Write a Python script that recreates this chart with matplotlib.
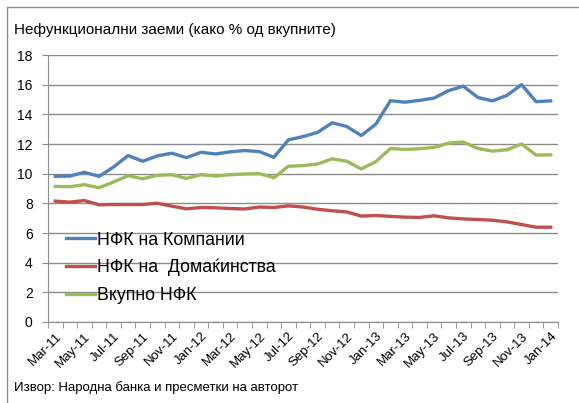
import numpy as np
import matplotlib.pyplot as plt
from matplotlib.patches import Rectangle

plt.rcParams['font.family'] = ['Liberation Sans', 'DejaVu Sans']

# Податоци (месечно, Mar-11 .. Jan-14)
months = ['Mar-11', 'Apr-11', 'May-11', 'Jun-11', 'Jul-11', 'Aug-11', 'Sep-11', 'Oct-11',
          'Nov-11', 'Dec-11', 'Jan-12', 'Feb-12', 'Mar-12', 'Apr-12', 'May-12', 'Jun-12',
          'Jul-12', 'Aug-12', 'Sep-12', 'Oct-12', 'Nov-12', 'Dec-12', 'Jan-13', 'Feb-13',
          'Mar-13', 'Apr-13', 'May-13', 'Jun-13', 'Jul-13', 'Aug-13', 'Sep-13', 'Oct-13',
          'Nov-13', 'Dec-13', 'Jan-14']
kompanii = [9.82, 9.84, 10.09, 9.82, 10.45, 11.22, 10.84, 11.2, 11.38, 11.08, 11.44, 11.33,
            11.47, 11.56, 11.49, 11.1, 12.28, 12.5, 12.78, 13.43, 13.18, 12.57, 13.34, 14.92,
            14.82, 14.94, 15.1, 15.6, 15.9, 15.14, 14.91, 15.28, 16.0, 14.85, 14.91]
domakinstva = [8.15, 8.08, 8.19, 7.9, 7.92, 7.92, 7.92, 8.01, 7.81, 7.63, 7.72, 7.7,
               7.65, 7.62, 7.75, 7.72, 7.83, 7.75, 7.6, 7.5, 7.42, 7.14, 7.18, 7.12,
               7.07, 7.05, 7.16, 7.02, 6.95, 6.91, 6.86, 6.75, 6.57, 6.39, 6.39]
vkupno = [9.14, 9.12, 9.26, 9.05, 9.44, 9.86, 9.66, 9.89, 9.93, 9.68, 9.93, 9.84,
          9.93, 9.98, 10.0, 9.73, 10.5, 10.54, 10.65, 11.0, 10.84, 10.32, 10.81, 11.7,
          11.63, 11.68, 11.77, 12.06, 12.13, 11.7, 11.52, 11.61, 12.0, 11.25, 11.27]
labels = ['НФК на Компании', 'НФК на  Домаќинства', 'Вкупно НФК']

fig = plt.figure(figsize=(5.79, 4.03), dpi=100)
ax = fig.add_axes([0.0829, 0.201, 0.8808, 0.6625])

x = np.arange(len(months))
ax.plot(x, kompanii, color='#4F81BD', lw=2.4, label=labels[0], solid_joinstyle='round')
ax.plot(x, domakinstva, color='#C0504D', lw=2.4, label=labels[1], solid_joinstyle='round')
ax.plot(x, vkupno, color='#9BBB59', lw=2.4, label=labels[2], solid_joinstyle='round')

ax.set_xlim(-0.5, len(months) - 0.5)
ax.set_ylim(0, 18)
ax.set_yticks(range(0, 19, 2))
ax.yaxis.grid(True, color='#8c8c8c', lw=1)
ax.set_axisbelow(True)
for s in ['top', 'right']:
    ax.spines[s].set_visible(False)
for s in ['left', 'bottom']:
    ax.spines[s].set_color('#8c8c8c')
ax.tick_params(axis='y', length=4, color='#8c8c8c', labelsize=10, pad=7)

ax.set_xticks(x[::2])
ax.set_xticklabels(months[::2], rotation=45, ha='right', rotation_mode='anchor', fontsize=9.5)
ax.tick_params(axis='x', length=0, pad=6)
ax.set_xticks(np.arange(-0.5, len(months), 1), minor=True)
ax.tick_params(axis='x', which='minor', length=4, color='#8c8c8c')

ax.legend(loc='upper left', bbox_to_anchor=(0.021, 0.365), frameon=False, fontsize=12.8,
          handlelength=1.65, handletextpad=0.1, labelspacing=0.58, borderaxespad=0)

fig.text(14 / 579, 1 - 30 / 403, 'Нефункционални заеми (како % од вкупните)',
         fontsize=11, va='center', ha='left')
fig.text(14 / 579, 1 - 388 / 403, 'Извор: Народна банка и пресметки на авторот',
         fontsize=9.5, va='center', ha='left')
fig.patches.append(Rectangle((7 / 579, -0.05), 1.1, 1 - 7 / 403 + 0.05,
                             transform=fig.transFigure, fill=False, ec='#8c8c8c', lw=1))

fig.savefig('out.png', dpi=100)
